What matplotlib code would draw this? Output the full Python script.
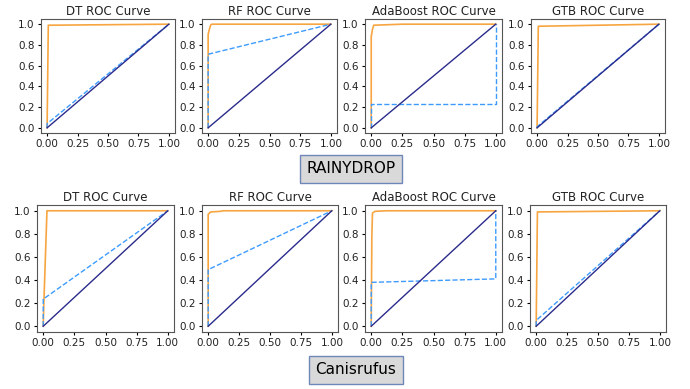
import numpy as np
import matplotlib.pyplot as plt

# model titles
models = ['DT', 'RF', 'AdaBoost', 'GTB']
datasets = ['RAINYDROP', 'Canisrufus']

# ROC curves (orange): [fpr], [tpr]
roc_top = [
    ([0, 0.01, 1.0], [0, 0.99, 1.0]),
    ([0, 0, 0.01, 0.02, 0.03, 1.0], [0, 0.90, 0.95, 0.99, 1.0, 1.0]),
    ([0, 0, 0.01, 0.02, 0.25, 1.0], [0, 0.88, 0.95, 0.99, 1.0, 1.0]),
    ([0, 0.01, 1.0], [0, 0.98, 1.0]),
]
roc_bottom = [
    ([0, 0.005, 0.03, 1.0], [0, 0.20, 1.0, 1.0]),
    ([0, 0, 0.02, 0.10, 0.12, 1.0], [0, 0.97, 0.99, 0.995, 1.0, 1.0]),
    ([0, 0.005, 0.01, 0.03, 0.12, 1.0], [0, 0.78, 0.98, 0.995, 1.0, 1.0]),
    ([0, 0.01, 1.0], [0, 0.99, 1.0]),
]
# second curves (dashed blue)
dash_top = [
    ([0, 0, 1.0], [0, 0.04, 1.0]),
    ([0, 0, 1.0], [0, 0.71, 1.0]),
    ([0, 0, 1.0, 1.0], [0, 0.23, 0.23, 1.0]),
    ([0, 0, 1.0], [0, 0.01, 1.0]),
]
dash_bottom = [
    ([0, 0, 0.02, 1.0], [0, 0.24, 0.25, 1.0]),
    ([0, 0, 1.0], [0, 0.49, 1.0]),
    ([0, 0, 1.0, 1.0], [0, 0.38, 0.41, 1.0]),
    ([0, 0, 1.0], [0, 0.05, 1.0]),
]

W, H = 690, 389
fig = plt.figure(figsize=(W / 100, H / 100), dpi=100)

# axes boxes in pixels: left, top, right, bottom
top_boxes = [(41, 19, 175, 133), (202, 19, 337, 133), (365, 19, 502, 133), (531, 19, 665, 133)]
bot_boxes = [(37, 205, 174, 332), (202, 205, 338, 332), (365, 205, 502, 332), (530, 205, 666, 332)]


def draw_row(boxes, rocs, dashes):
    for name, (l, t, r, b), roc, dash in zip(models, boxes, rocs, dashes):
        ax = fig.add_axes([l / W, 1 - b / H, (r - l) / W, (b - t) / H])
        ax.plot(roc[0], roc[1], color='#f7a540', lw=1.2)
        ax.plot(dash[0], dash[1], color='#3d9bff', lw=1, ls='--')
        ax.plot([0, 1], [0, 1], color='#2b2b8c', lw=1)
        ax.set_title(f'{name} ROC Curve', fontsize=8.5, pad=3, color='#222222')
        ax.set_xticks([0, 0.25, 0.5, 0.75, 1.0])
        ax.set_yticks([0, 0.2, 0.4, 0.6, 0.8, 1.0])
        ax.tick_params(labelsize=7.5, length=2.5, pad=2, labelcolor='#222222')
        ax.set_xlim(-0.05, 1.05)
        ax.set_ylim(-0.05, 1.05)
        for s in ax.spines.values():
            s.set_color('#555555')


draw_row(top_boxes, roc_top, dash_top)
draw_row(bot_boxes, roc_bottom, dash_bottom)

box = dict(boxstyle='square,pad=0.45', facecolor='#d9d9d9', edgecolor='#6f86b8', lw=1)
fig.text(351 / W, 1 - 169 / H, datasets[0], ha='center', va='center', fontsize=11, bbox=box)
fig.text(356 / W, 1 - 370 / H, datasets[1], ha='center', va='center', fontsize=11, bbox=box)

fig.savefig('out.png', dpi=100)
